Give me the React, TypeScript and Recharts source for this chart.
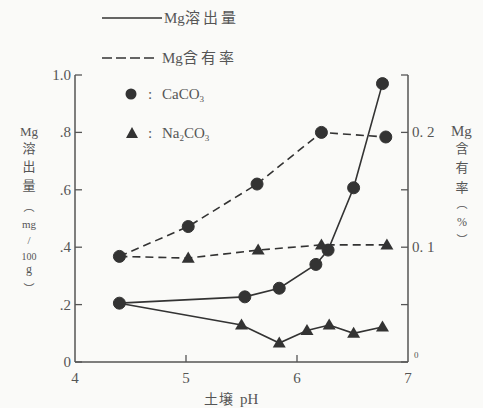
import React from 'react';
import { ComposedChart, Line, XAxis, YAxis } from 'recharts';

// Mg溶出量 (left axis, mg/100g)
const caSolPH = [4.4, 5.53, 5.84, 6.17, 6.28, 6.51, 6.77];
const caSolVal = [0.205, 0.227, 0.257, 0.34, 0.39, 0.607, 0.97];
const naSolPH = [4.4, 5.5, 5.84, 6.09, 6.29, 6.51, 6.77];
const naSolVal = [0.205, 0.129, 0.066, 0.11, 0.129, 0.1, 0.122];
// Mg含有率 (right axis, %)
const caConPH = [4.4, 5.02, 5.64, 6.22, 6.8];
const caConVal = [0.092, 0.118, 0.155, 0.2, 0.196];
const naConPH = [4.4, 5.02, 5.65, 6.22, 6.81];
const naConVal = [0.092, 0.0905, 0.0975, 0.102, 0.102];

const xTicks = [4, 5, 6, 7];
const leftTicks = [0, 0.2, 0.4, 0.6, 0.8, 1.0];
const leftLabels = ['0', '.2', '.4', '.6', '.8', '1.0'];
const rightTicks = [0, 0.05, 0.1, 0.15, 0.2, 0.25];
const rightLabels = ['', '', '0. 1', '', '0. 2', ''];

const zip = (xs: number[], ys: number[]) => xs.map((x, i) => ({ x, y: ys[i] }));

const INK = '#333';
const AXIS = '#555';
const TXT = '#555';
const SERIF = '"Liberation Serif", "DejaVu Serif", serif';
const CJK = '"Noto Sans CJK JP", sans-serif';

const circleDot = (p: any) => {
  const { cx, cy, index } = p;
  return <circle key={`c${index}-${cx}`} cx={cx} cy={cy} r={6} fill={INK} stroke={INK} />;
};
const triDot = (p: any) => {
  const { cx, cy, index } = p;
  if (index === 0) return <g key={`t${index}-${cx}`} />;
  const s = 6.5;
  return (
    <path
      key={`t${index}-${cx}`}
      d={`M${cx},${cy - s} L${cx + s},${cy + s * 0.7} L${cx - s},${cy + s * 0.7} Z`}
      fill={INK}
    />
  );
};

const serifStyle = { fontFamily: SERIF };
const cjkStyle = { fontFamily: CJK };

const LeftTick = (p: any) => {
  const { x, y, payload } = p;
  const i = leftTicks.findIndex((t) => Math.abs(t - payload.value) < 1e-6);
  return (
    <g>
      <line x1={x} x2={x + 7} y1={y} y2={y} stroke={AXIS} strokeWidth={1.3} />
      <text x={x - 4} y={y} dy={5} textAnchor="end" style={serifStyle} fontSize={15} fill={TXT}>
        {leftLabels[i] ?? ''}
      </text>
    </g>
  );
};

const RightTick = (p: any) => {
  const { x, y, payload } = p;
  const i = rightTicks.findIndex((t) => Math.abs(t - payload.value) < 1e-6);
  return (
    <g>
      <line x1={x - 7} x2={x} y1={y} y2={y} stroke={AXIS} strokeWidth={1.3} />
      {i === 0 ? (
        <text x={x + 6} y={y - 4} style={serifStyle} fontSize={9} fill={TXT}>0</text>
      ) : (
        <text x={x + 4} y={y} dy={5} textAnchor="start" style={serifStyle} fontSize={15} fill={TXT}>
          {rightLabels[i] ?? ''}
        </text>
      )}
    </g>
  );
};

const BottomTick = (p: any) => {
  const { x, y, payload } = p;
  const v = payload.value;
  return (
    <g>
      {v !== 4 && v !== 7 && <line x1={x} x2={x} y1={y} y2={y - 7} stroke={AXIS} strokeWidth={1.3} />}
      <text x={x} y={y} dy={21} textAnchor="middle" style={serifStyle} fontSize={15} fill={TXT}>
        {String(v)}
      </text>
    </g>
  );
};

const leftTitle: [string, number, string, number][] = [
  ['Mg', 136, SERIF, 13],
  ['溶', 153, CJK, 13],
  ['出', 171, CJK, 13],
  ['量', 190, CJK, 13],
  ['︵', 211, CJK, 11],
  ['mg', 228, SERIF, 11],
  ['/', 244, SERIF, 11],
  ['100', 260, SERIF, 10],
  ['g', 273, SERIF, 12],
  ['︶', 293, CJK, 11],
];
const rightTitle: [string, number, string, number][] = [
  ['含', 153, CJK, 13],
  ['有', 172, CJK, 13],
  ['率', 192, CJK, 13],
  ['︵', 208, CJK, 11],
  ['%', 226, SERIF, 12],
  ['︶', 244, CJK, 11],
];

export default function App() {
  return (
    <div style={{ position: 'absolute', left: 0, top: 0, width: 483, height: 408, background: '#fafaf8' }}>
      <ComposedChart width={483} height={408} margin={{ top: 75, right: 0, bottom: 0, left: 0 }}>
        <XAxis
          type="number"
          dataKey="x"
          domain={[4, 7]}
          ticks={xTicks}
          height={46}
          tickSize={0}
          tickMargin={0}
          tickLine={false}
          tick={<BottomTick />}
          stroke={AXIS}
          strokeWidth={1.5}
          allowDataOverflow
        />
        <YAxis
          yAxisId="l"
          orientation="left"
          domain={[0, 1]}
          ticks={leftTicks}
          width={75}
          tickSize={0}
          tickMargin={0}
          tickLine={false}
          tick={<LeftTick />}
          stroke={AXIS}
          strokeWidth={1.5}
        />
        <YAxis
          yAxisId="r"
          orientation="right"
          domain={[0, 0.25]}
          ticks={rightTicks}
          width={75}
          tickSize={0}
          tickMargin={0}
          tickLine={false}
          tick={<RightTick />}
          stroke={AXIS}
          strokeWidth={1.5}
        />
        <Line yAxisId="l" data={zip(caSolPH, caSolVal)} dataKey="y" stroke={INK} strokeWidth={1.6} dot={circleDot} isAnimationActive={false} />
        <Line yAxisId="l" data={zip(naSolPH, naSolVal)} dataKey="y" stroke={INK} strokeWidth={1.6} dot={triDot} isAnimationActive={false} />
        <Line yAxisId="r" data={zip(caConPH, caConVal)} dataKey="y" stroke={INK} strokeWidth={1.6} strokeDasharray="8 5" dot={circleDot} isAnimationActive={false} />
        <Line yAxisId="r" data={zip(naConPH, naConVal)} dataKey="y" stroke={INK} strokeWidth={1.6} strokeDasharray="8 5" dot={triDot} isAnimationActive={false} />
      </ComposedChart>
      <svg width={483} height={408} style={{ position: 'absolute', left: 0, top: 0, pointerEvents: 'none' }}>
        {/* legend */}
        <line x1={102} x2={162} y1={18} y2={18} stroke={INK} strokeWidth={1.6} />
        <text x={164} y={23} style={serifStyle} fontSize={15} fill={TXT}>Mg</text>
        <text x={185} y={23} style={cjkStyle} fontSize={15} fill={TXT} letterSpacing={3}>溶出量</text>
        <line x1={102} x2={158} y1={58} y2={58} stroke={INK} strokeWidth={1.6} strokeDasharray="10 4" />
        <text x={162} y={63} style={serifStyle} fontSize={15} fill={TXT}>Mg</text>
        <text x={183} y={63} style={cjkStyle} fontSize={15} fill={TXT} letterSpacing={3}>含有率</text>
        <circle cx={131} cy={94} r={5.5} fill={INK} />
        <text x={148} y={99} style={serifStyle} fontSize={15} fill={TXT}>:</text>
        <text x={162} y={99} style={serifStyle} fontSize={15} fill={TXT}>
          CaCO<tspan fontSize={9} dy={3}>3</tspan>
        </text>
        <path d="M132,127 L138,138 L126,138 Z" fill={INK} />
        <text x={148} y={138} style={serifStyle} fontSize={15} fill={TXT}>:</text>
        <text x={162} y={138} style={serifStyle} fontSize={15} fill={TXT}>
          Na<tspan fontSize={9} dy={3}>2</tspan><tspan dy={-3}>CO</tspan><tspan fontSize={9} dy={3}>3</tspan>
        </text>
        {/* left axis title */}
        {leftTitle.map(([t, y, f, s], i) => (
          <text key={`lt${i}`} x={29} y={y} textAnchor="middle" style={{ fontFamily: f }} fontSize={s} fill={TXT}>{t}</text>
        ))}
        {/* right axis title */}
        <text x={451} y={136} style={serifStyle} fontSize={15} fill={TXT}>Mg</text>
        {rightTitle.map(([t, y, f, s], i) => (
          <text key={`rt${i}`} x={462} y={y} textAnchor="middle" style={{ fontFamily: f }} fontSize={s} fill={TXT}>{t}</text>
        ))}
        {/* x axis title */}
        <text x={204} y={404} style={cjkStyle} fontSize={14} fill={TXT} letterSpacing={1}>土壌</text>
        <text x={240} y={404} style={serifStyle} fontSize={15} fill={TXT}>pH</text>
      </svg>
    </div>
  );
}
